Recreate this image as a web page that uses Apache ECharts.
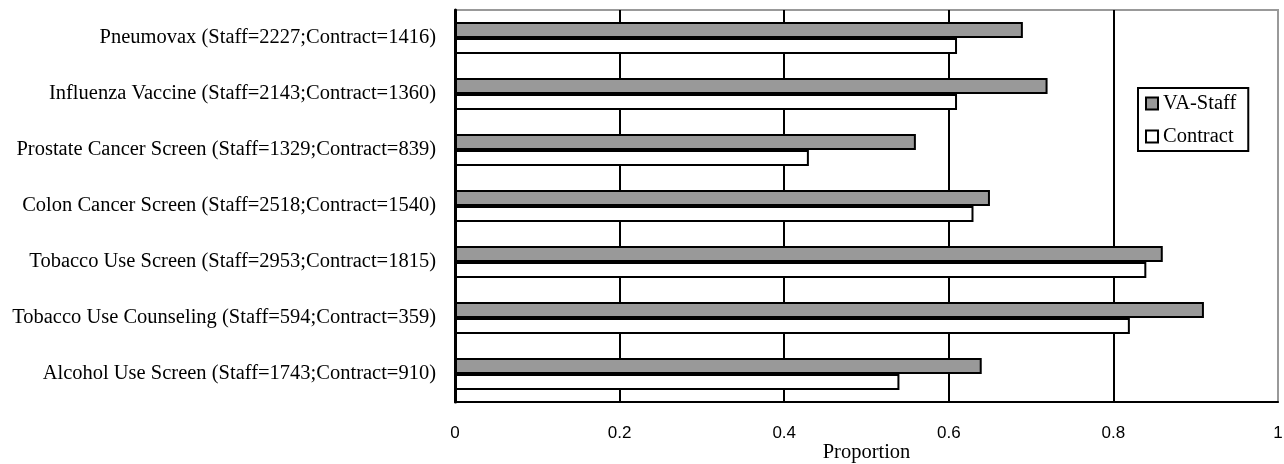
<!DOCTYPE html>
<html>
<head>
<meta charset="utf-8">
<script src="https://cdn.jsdelivr.net/npm/echarts@6/dist/echarts.min.js"></script>
<style>html,body{margin:0;padding:0;background:#fff}#c{width:1284px;height:464px}</style>
</head>
<body>
<div id="c"></div>
<script>
const categories = [
  'Pneumovax (Staff=2227;Contract=1416)',
  'Influenza Vaccine (Staff=2143;Contract=1360)',
  'Prostate Cancer Screen (Staff=1329;Contract=839)',
  'Colon Cancer Screen (Staff=2518;Contract=1540)',
  'Tobacco Use Screen (Staff=2953;Contract=1815)',
  'Tobacco Use Counseling (Staff=594;Contract=359)',
  'Alcohol Use Screen (Staff=1743;Contract=910)'
];
const vaStaff = [0.69, 0.72, 0.56, 0.65, 0.86, 0.91, 0.64];
const contract = [0.61, 0.61, 0.43, 0.63, 0.84, 0.82, 0.54];

const chart = echarts.init(document.getElementById('c'), null, {renderer: 'canvas'});
const serif = '"Liberation Serif", "Times New Roman", serif';
const sans = '"Liberation Sans", Arial, sans-serif';
chart.setOption({
  animation: false,
  backgroundColor: '#fff',
  grid: {left: 455, top: 10, right: 6, bottom: 62, outerBoundsMode: 'none', containLabel: false,
         show: true, borderColor: '#999', borderWidth: 2, backgroundColor: 'transparent'},
  legend: {
    orient: 'vertical', left: 1138, top: 88,
    padding: [5, 12, 4, 7],
    borderColor: '#000', borderWidth: 2,
    itemWidth: 12, itemHeight: 12, itemGap: 12,
    icon: 'rect',
    textStyle: {fontFamily: serif, fontSize: 20.5, color: '#000', lineHeight: 20},
    data: ['VA-Staff', 'Contract']
  },
  xAxis: {
    type: 'value', min: 0, max: 1, interval: 0.2,
    name: 'Proportion', nameLocation: 'middle', nameGap: 40, nameMoveOverlap: false,
    nameTextStyle: {fontFamily: serif, fontSize: 20.5, color: '#000'},
    axisLine: {show: true, lineStyle: {color: '#000', width: 2}},
    axisTick: {show: false},
    axisLabel: {fontFamily: sans, fontSize: 17, color: '#000', margin: 23},
    splitLine: {show: true, showMinLine: false, showMaxLine: false, lineStyle: {color: '#000', width: 2}}
  },
  yAxis: {
    type: 'category', inverse: true, data: categories,
    axisLine: {show: true, lineStyle: {color: '#000', width: 3}},
    axisTick: {show: false},
    axisLabel: {fontFamily: serif, fontSize: 20.5, color: '#000', margin: 19}
  },
  series: [
    {name: 'VA-Staff', type: 'bar', data: vaStaff, barWidth: 16, barGap: '0%',
     itemStyle: {color: '#999999', borderColor: '#000', borderWidth: 2}},
    {name: 'Contract', type: 'bar', data: contract, barWidth: 16, barGap: '0%',
     itemStyle: {color: '#ffffff', borderColor: '#000', borderWidth: 2}}
  ]
});
</script>
</body>
</html>
